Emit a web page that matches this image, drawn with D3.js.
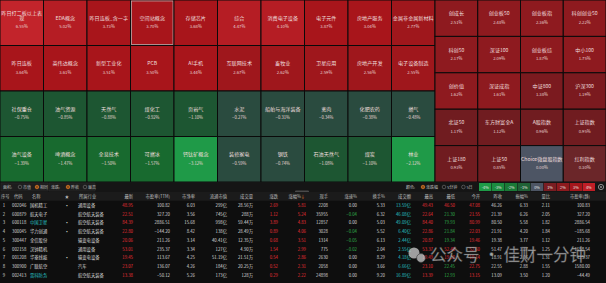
<!DOCTYPE html>
<html><head><meta charset="utf-8">
<script src="https://cdn.jsdelivr.net/npm/d3@7"></script>
<style>
body{margin:0;background:#0e0e0e;overflow:hidden}
svg{display:block;font-family:"Noto Sans CJK SC","Noto Sans",sans-serif}
</style></head><body>
<svg id="chart" width="606" height="283"></svg>
<script>
"use strict";

// industry / concept heatmap (4 rows x 10 cols)
const sectorNames = [
  "昨日打二板以上表现", "EDA概念", "昨日连板_含一字", "空间站概念", "存储芯片", "综合", "消费电子设备", "电子元件", "房地产服务", "金属非金属新材料",
  "昨日连板", "英伟达概念", "新型工业化", "PCB", "AI手机", "互联网技术", "畜牧业", "卫星应用", "房地产开发", "电子设备制造",
  "社保重仓", "油气资源", "天然气", "煤化工", "页岩气", "水泥", "船舶与海洋装备", "禽肉", "化肥农药", "燃气",
  "油气设备", "啤酒概念", "全息技术", "可燃冰", "钙钛矿概念", "装修家电", "钢铁", "石油天然气", "煤炭", "林业"
];
const sectorPct = [
  6.55, 5.02, 3.73, 3.70, 3.68, 4.47, 4.10, 3.87, 3.04, 2.77,
  3.64, 3.61, 3.51, 3.50, 3.44, 2.67, 2.62, 2.59, 2.56, 2.55,
  -0.75, -0.85, -0.88, -0.92, -1.10, -0.27, -0.31, -0.34, -0.38, -0.48,
  -1.39, -1.47, -1.50, -1.57, -3.12, -0.59, -0.74, -1.08, -1.10, -2.12
];

// index block (5 rows x 4 cols)
const indexNames = [
  "创成长", "创业板50", "创业板指", "科创创业50",
  "科创50", "深证100", "创业板综", "中小100",
  "创价值", "深证成指", "中证800", "沪深300",
  "北证50", "东方财富全A", "A股指数", "上证指数",
  "上证180", "上证50", "Choice微盘股指数", "红利指数"
];
const indexPct = [
  2.51, 2.48, 2.36, 2.22,
  2.17, 2.09, 1.87, 1.75,
  1.62, 1.61, 1.38, 1.19,
  1.17, 1.12, 0.96, 0.95,
  0.93, 0.85, 0.00, 0.30
];

const legendLabels = ["-4%", "-3%", "-2%", "-1%", "0%", "1%", "2%", "3%", "4%"];
const legendValues = [-4, -3, -2, -1, 0, 1, 2, 3, 4];

// stock table
const headers = ["序号", "代码", "名称", "★", "所属行业", "最新", "市盈率(TTM)", "市净率", "流通市值", "成交量", "涨跌", "涨幅%", "现手", "涨速%", "换手%", "成交额", "最高", "最低", "今开", "昨收", "振幅%", "量比", "市盈率(静)"];
const codes = ["002046", "600879", "600118", "300045", "300447", "002158", "001208", "300900", "002413"];
const names = ["国机精工", "航天电子", "中国卫星", "华力创通", "全信股份", "汉钟精机", "华菱线缆", "广联航空", "雷科防务"];
const starred = [1, 0, 1, 1, 0, 0, 1, 0, 0];
const industries = ["通用设备", "航空航天装备", "航空航天装备", "航空航天装备", "输变电设备", "通用设备", "输变电设备", "汽车", "航空航天装备"];
const latest = [48.95, 22.51, 84.39, 22.80, 20.06, 53.01, 19.45, 23.07, 13.38];
const peTTM = [100.82, 327.20, 2886.51, -144.20, 211.26, 235.37, 113.67, 136.07, -50.12];
const pb = [6.03, 3.56, 15.68, 8.42, 3.14, 3.34, 4.25, 4.26, 5.26];
const floatCap = ["299亿", "745亿", "998亿", "138亿", "40.41亿", "127亿", "51.19亿", "184亿", "173亿"];
const volume = ["28.56万", "288万", "59.44万", "28.49万", "12.35万", "4.90万", "21.51万", "20.25万", "128万"];
const change = [2.69, 1.12, 3.89, 0.89, 0.68, 1.54, 0.54, 0.52, 0.29];
const pct = [5.81, 5.24, 4.83, 4.06, 3.51, 2.99, 2.86, 2.31, 2.22];
const lastVol = [2208, 35955, 12857, 3028, 1314, 775, 2630, 2058, 24898];
const speed = [0.00, -0.04, 0.00, -0.04, -0.05, -0.02, 0.00, 0.00, 0.00];
const turnover = [5.33, 6.32, 5.03, 5.52, 6.13, 2.04, 8.29, 3.66, 9.20];
const amount = ["13.59亿", "46.08亿", "49.09亿", "6.40亿", "2.44亿", "2.55亿", "4.18亿", "6.66亿", "16.89亿"];
const high = [49.43, 22.64, 84.40, 22.86, 20.87, 53.37, 19.49, 23.10, 13.39];
const low = [46.50, 21.30, 79.93, 21.84, 19.34, 52.40, 19.10, 22.45, 12.93];
const open = [47.08, 21.55, 80.99, 22.03, 19.46, 52.60, 19.14, 22.75, 13.15];
const prevClose = [46.26, 21.39, 80.50, 21.91, 19.38, 51.47, 18.91, 22.55, 13.09];
const amplitude = [6.33, 6.26, 5.58, 4.20, 3.77, 1.87, 2.06, 2.88, 3.50];
const volRatio = [2.11, 2.05, 1.82, 1.84, 1.12, 1.25, 1.31, 1.55, 1.20];
const peStatic = [100.83, 327.20, 2886.54, -185.68, 211.26, 1658.54, 125.37, 1580.00, -44.49];

const W = 606, H = 283;
const svg = d3.select("#chart");

const heatColor = d3.scaleThreshold()
  .domain([-2, -1.2, -0.745, -0.005, 0.005, 0.5, 1.18, 1.5, 2.52, 3.0, 4.0, 6.0])
  .range(["#1f9a48", "#186a2f", "#1d5632", "#2a4b3f", "#4d5564", "#6b2629", "#701c20", "#7b1a1f",
          "#8e1a1f", "#9f171c", "#a8151b", "#b51d24", "#c2242b"]);

const mapBottom = 182;

// left heatmap grid
const lx = d3.scaleBand().domain(d3.range(10)).range([0, 435]);
const ly = d3.scaleBand().domain(d3.range(4)).range([0, mapBottom]);
// right index grid
const rx = d3.scaleBand().domain(d3.range(4)).range([435, W]);
const ry = d3.scaleBand().domain(d3.range(5)).range([0, mapBottom]);

const cells = sectorNames.map((n, i) => ({
  name: n, v: sectorPct[i],
  x: lx(i % 10), y: ly(Math.floor(i / 10)), w: lx.bandwidth(), h: ly.bandwidth()
})).concat(indexNames.map((n, i) => ({
  name: n, v: indexPct[i],
  x: rx(i % 4), y: ry(Math.floor(i / 4)), w: rx.bandwidth(), h: ry.bandwidth()
})));

const cellG = svg.append("g").selectAll("g").data(cells).join("g")
  .attr("transform", d => `translate(${d.x},${d.y})`);

cellG.append("rect")
  .attr("width", d => d.w).attr("height", d => d.h)
  .attr("fill", d => heatColor(d.v))
  .attr("stroke", "#0a0a0a").attr("stroke-width", 1);

// selected cell outline
cellG.filter(d => d.name === "空间站概念").append("rect")
  .attr("x", 1).attr("y", 1)
  .attr("width", d => d.w - 2).attr("height", d => d.h - 2)
  .attr("fill", "none").attr("stroke", "#b9a9a9").attr("stroke-width", 0.8);

const fs = 5.1;
cellG.each(function (d) {
  const g = d3.select(this);
  const chars = Array.from(d.name);
  const lines = [];
  // rough wrap: cjk chars = fs, ascii narrower
  let cur = "", wcur = 0;
  chars.forEach(c => {
    const cw = /[\x00-\x7f]/.test(c) ? fs * 0.5 : fs;
    if (wcur + cw > d.w + 0.5) { lines.push(cur); cur = ""; wcur = 0; }
    cur += c; wcur += cw;
  });
  lines.push(cur);
  const cy = d.h / 2;
  const top = cy - 3 - (lines.length - 1) * fs;
  lines.forEach((l, k) => {
    g.append("text")
      .attr("x", d.w / 2).attr("y", top + k * (fs + 0.6))
      .attr("text-anchor", "middle")
      .attr("fill", "#eedede").attr("font-size", fs)
      .text(l);
  });
  g.append("text")
    .attr("x", d.w / 2).attr("y", cy + 5.5)
    .attr("text-anchor", "middle")
    .attr("fill", "#e8d6d6").attr("font-size", 4.2)
    .text(d3.format(".2f")(d.v) + "%");
});

// control bar
const bar = svg.append("g").attr("transform", `translate(0,${mapBottom})`);
bar.append("rect").attr("width", W).attr("height", 10).attr("fill", "#151515");

function radioGroup(x, title, opts, on, w) {
  const g = bar.append("g").attr("transform", `translate(${x},0)`);
  if (w) g.append("rect").attr("x", 0).attr("y", 1).attr("width", w).attr("height", 8)
    .attr("fill", "#1d1d1d").attr("stroke", "#2c2c2c").attr("stroke-width", 0.5);
  g.append("text").attr("x", 2).attr("y", 6.6).attr("font-size", 4).attr("fill", "#bdbdbd").text(title);
  let cx = 2 + title.length * 4 + 3;
  opts.forEach((o, k) => {
    g.append("circle").attr("cx", cx + 2).attr("cy", 5).attr("r", 1.8)
      .attr("fill", k === on ? "#e07a24" : "none")
      .attr("stroke", k === on ? "#e07a24" : "#888").attr("stroke-width", 0.5);
    if (k === on) g.append("circle").attr("cx", cx + 2).attr("cy", 5).attr("r", 0.8).attr("fill", "#2a1a0a");
    g.append("text").attr("x", cx + 5).attr("y", 6.6).attr("font-size", 4).attr("fill", "#bdbdbd").text(o);
    cx += 5 + Array.from(o).reduce((s, c) => s + (/[\x00-\x7f]/.test(c) ? 2.4 : 4), 0) + 4;
  });
}
radioGroup(1, "面积:", ["市值", "相同"], 1, 47);
radioGroup(49, "涨跌:", ["昨收", "最高"], 0, 46);
radioGroup(404, "颜色:", ["涨跌幅", "5分钟", "5日"], 0, 0);

const legX = d3.scaleBand().domain(legendValues).range([479, 595]).paddingInner(0.04);
const legend = bar.append("g").selectAll("g").data(legendValues).join("g")
  .attr("transform", v => `translate(${legX(v)},1)`);
legend.append("rect").attr("width", legX.bandwidth()).attr("height", 8)
  .attr("fill", v => v === 0 ? "#4d5564" : v > 0 ? ["#7a1d22", "#8d1a1e", "#a5161b", "#c01e26"][v - 1] : ["#1f6236", "#1a7a36", "#1b8c40", "#1e9b47"][-v - 1]);
legend.append("text").attr("x", legX.bandwidth() / 2).attr("y", 5.6)
  .attr("text-anchor", "middle").attr("font-size", 3.8).attr("fill", "#e6e6e6")
  .text((v, i) => legendLabels[i]);
// gear icon
bar.append("circle").attr("cx", 601).attr("cy", 5).attr("r", 2.6)
  .attr("fill", "none").attr("stroke", "#9a9a9a").attr("stroke-width", 0.9);
bar.append("circle").attr("cx", 601).attr("cy", 5).attr("r", 0.9).attr("fill", "#9a9a9a");
// drag handle
bar.append("rect").attr("x", 295).attr("y", 8.6).attr("width", 14).attr("height", 2.2).attr("rx", 1).attr("fill", "#4a4a4a");

// table
const tableTop = 192;
const rowH = 8.75;
const ty = d3.scaleBand().domain(d3.range(-1, 9)).range([tableTop, tableTop + rowH * 10]);

svg.append("rect").attr("x", 0).attr("y", tableTop).attr("width", W).attr("height", rowH)
  .attr("fill", "#1b1b1b");

// column anchors
const colX = [4, 12, 30, 67, 78, 133, 170, 195, 227, 253, 278, 306, 328, 357, 385, 411, 433, 455, 480, 502, 528, 550, 590];
const colA = ["middle", "start", "start", "middle", "start"].concat(d3.range(18).map(() => "end"));

const white = "#d9d9d9", red = "#ec2f36", green = "#2fb04c", cyan = "#27c1c4";
const signColor = v => v > 0 ? red : v < 0 ? green : white;
const vsPrev = (v, i) => v > prevClose[i] ? red : v < prevClose[i] ? green : white;
const f2 = d3.format(".2f");

const hdr = svg.append("g").attr("font-size", 4.3).attr("fill", "#bdbdbd");
headers.forEach((h, j) => {
  hdr.append("text")
    .attr("x", j === 0 ? 1 : j === 1 ? 14 : j === 2 ? 32 : j === 4 ? 79 : colX[j] - (j === 11 ? 5 : 0))
    .attr("y", ty(-1) + 6.1)
    .attr("text-anchor", j < 5 && j !== 3 ? "start" : colA[j])
    .text(h);
});
// sort arrow on 涨幅%
hdr.append("text").attr("x", colX[11] - 1).attr("y", ty(-1) + 6.2).attr("font-size", 4.6)
  .attr("fill", "#e07a24").attr("text-anchor", "end").text("↓");

const rows = svg.append("g").attr("font-size", 4.3);
codes.forEach((c, i) => {
  const cells = [
    [i + 1, white], [c, white], [names[i], (i === 2 || i === 8) ? cyan : white],
    [starred[i] ? "▪" : "", "#bbbbbb"], [industries[i], white],
    [f2(latest[i]), red], [f2(peTTM[i]), white], [f2(pb[i]), white],
    [floatCap[i], white], [volume[i], white],
    [f2(change[i]), signColor(change[i])], [f2(pct[i]), signColor(pct[i])],
    [lastVol[i], white], [f2(speed[i]), signColor(speed[i])], [f2(turnover[i]), white],
    [amount[i], cyan],
    [f2(high[i]), vsPrev(high[i], i)], [f2(low[i]), vsPrev(low[i], i)], [f2(open[i]), vsPrev(open[i], i)],
    [f2(prevClose[i]), white], [f2(amplitude[i]), white], [f2(volRatio[i]), white], [f2(peStatic[i]), white]
  ];
  cells.forEach(([t, col], j) => {
    rows.append("text")
      .attr("x", colX[j]).attr("y", ty(i) + 6.1)
      .attr("text-anchor", colA[j])
      .attr("fill", col)
      .text(t);
  });
});

// watermark
const wm = svg.append("g").attr("opacity", 0.72);
wm.append("circle").attr("cx", 414).attr("cy", 253).attr("r", 5.5).attr("fill", "#d8d8d8");
wm.append("circle").attr("cx", 421).attr("cy", 258).attr("r", 4.4).attr("fill", "#d8d8d8").attr("stroke", "#444").attr("stroke-width", 0.6);
wm.append("text").attr("x", 430).attr("y", 261).attr("font-size", 16.5).attr("fill", "#dcdcdc")
  .attr("stroke", "#555").attr("stroke-width", 0.4)
  .text("公众号 · 佳财一分钟");
</script></body></html>
